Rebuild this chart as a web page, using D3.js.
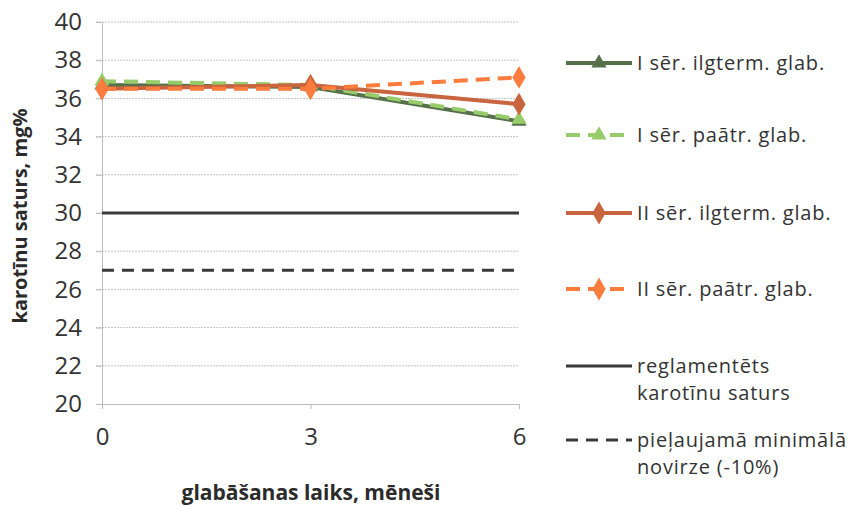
<!DOCTYPE html>
<html>
<head>
<meta charset="utf-8">
<script src="https://cdn.jsdelivr.net/npm/d3@7"></script>
<style>
  html, body { margin: 0; padding: 0; background: #fff; }
  svg { display: block; font-family: "Open Sans", Lato, sans-serif; }
</style>
</head>
<body>
<svg id="chart" width="856" height="506"></svg>
<script>
// Storage time, months
const months = [0, 3, 6];
// Carotene content, mg%
const s1Long = [36.7, 36.6, 34.8];
const s1Fast = [36.9, 36.7, 34.9];
const s2Long = [36.5, 36.7, 35.7];
const s2Fast = [36.5, 36.5, 37.1];
const norm = [30, 30, 30];
const minDev = [27, 27, 27];
const yTicks = [20, 22, 24, 26, 28, 30, 32, 34, 36, 38, 40];
const seriesNames = [
  "I sēr. ilgterm. glab.",
  "I sēr. paātr. glab.",
  "II sēr. ilgterm. glab.",
  "II sēr. paātr. glab."
];
const normName = ["reglamentēts", "karotīnu saturs"];
const minName = ["pieļaujamā minimālā", "novirze (-10%)"];

const svg = d3.select("#chart");
const x = d3.scaleLinear().domain([0, 6]).range([102, 519]);
const y = d3.scaleLinear().domain([20, 40]).range([404, 22]);

// gridlines
svg.append("g").selectAll("line").data(yTicks.filter(t => t > 20)).join("line")
  .attr("x1", 96).attr("x2", 519)
  .attr("y1", d => y(d)).attr("y2", d => y(d))
  .attr("stroke", "#c4c4c4").attr("stroke-width", 1)
  .attr("stroke-dasharray", "2,1");

// axes
const yAxis = d3.axisLeft(y).tickValues(yTicks).tickSize(6).tickPadding(14);
const gy = svg.append("g").attr("transform", "translate(102,0)").call(yAxis);
gy.attr("font-family", null).attr("font-size", 24);
gy.select(".domain").attr("stroke", "#bdbdbd");
gy.selectAll(".tick line").attr("stroke", "#bdbdbd");
gy.selectAll("text").attr("fill", "#333");

const xAxis = d3.axisBottom(x).tickValues(months).tickFormat(d3.format("d"))
  .tickSize(5).tickPadding(19);
const gx = svg.append("g").attr("transform", "translate(0,404)").call(xAxis);
gx.attr("font-family", null).attr("font-size", 24);
gx.select(".domain").attr("stroke", "#bdbdbd");
gx.selectAll(".tick line").attr("stroke", "#bdbdbd");
gx.selectAll("text").attr("fill", "#333");

// axis titles
svg.append("text")
  .attr("transform", "translate(27,216) rotate(-90)")
  .attr("text-anchor", "middle").attr("font-size", 20).attr("font-weight", "bold")
  .attr("fill", "#2b2b2b").text("karotīnu saturs, mg%");
svg.append("text")
  .attr("x", 311).attr("y", 500).attr("text-anchor", "middle")
  .attr("font-size", 21).attr("font-weight", "bold").attr("fill", "#2b2b2b")
  .text("glabāšanas laiks, mēneši");

const line = d3.line().x((d, i) => x(months[i])).y(d => y(d));

// reference levels
svg.append("path").datum(norm).attr("d", line)
  .attr("fill", "none").attr("stroke", "#3a3a3a").attr("stroke-width", 3);
svg.append("path").datum(minDev).attr("d", line)
  .attr("fill", "none").attr("stroke", "#3a3a3a").attr("stroke-width", 3)
  .attr("stroke-dasharray", "12,8");

const tri = d3.symbol().type(d3.symbolTriangle).size(100);
const dia = d3.symbol().type(d3.symbolDiamond).size(150);

const series = [
  { vals: s1Long, color: "#56714a", dash: null, sym: tri },
  { vals: s1Fast, color: "#98cc6a", dash: "14,8", sym: tri },
  { vals: s2Long, color: "#c8643e", dash: null, sym: dia },
  { vals: s2Fast, color: "#fb7c3c", dash: "14,8", sym: dia }
];

series.forEach(s => {
  svg.append("path").datum(s.vals).attr("d", line)
    .attr("fill", "none").attr("stroke", s.color).attr("stroke-width", 4)
    .attr("stroke-dasharray", s.dash);
  svg.append("g").selectAll("path").data(s.vals).join("path")
    .attr("d", s.sym)
    .attr("transform", (d, i) => `translate(${x(months[i])},${y(d)})`)
    .attr("fill", s.color);
});

// legend
const lg = svg.append("g").attr("font-size", 20).attr("letter-spacing", 0.8).attr("fill", "#333");
const lx1 = 566, lx2 = 632, tx = 637;
const rowsY = [63, 135, 213, 289];
series.forEach((s, i) => {
  const yy = rowsY[i];
  lg.append("line").attr("x1", lx1).attr("x2", lx2).attr("y1", yy).attr("y2", yy)
    .attr("stroke", s.color).attr("stroke-width", 4)
    .attr("stroke-dasharray", s.dash ? "14,8" : null);
  lg.append("path").attr("d", s.sym).attr("transform", `translate(${(lx1 + lx2) / 2},${yy})`)
    .attr("fill", s.color);
  lg.append("text").attr("x", tx).attr("y", yy).attr("dy", "0.35em").text(seriesNames[i]);
});

lg.append("line").attr("x1", lx1).attr("x2", lx2).attr("y1", 366).attr("y2", 366)
  .attr("stroke", "#3a3a3a").attr("stroke-width", 3);
normName.forEach((t, i) => lg.append("text").attr("x", tx).attr("y", 366 + i * 27)
  .attr("dy", "0.35em").text(t));

lg.append("line").attr("x1", lx1).attr("x2", lx2).attr("y1", 440).attr("y2", 440)
  .attr("stroke", "#3a3a3a").attr("stroke-width", 3).attr("stroke-dasharray", "12,8");
minName.forEach((t, i) => lg.append("text").attr("x", tx).attr("y", 440 + i * 27)
  .attr("dy", "0.35em").text(t));
</script>
</body>
</html>
